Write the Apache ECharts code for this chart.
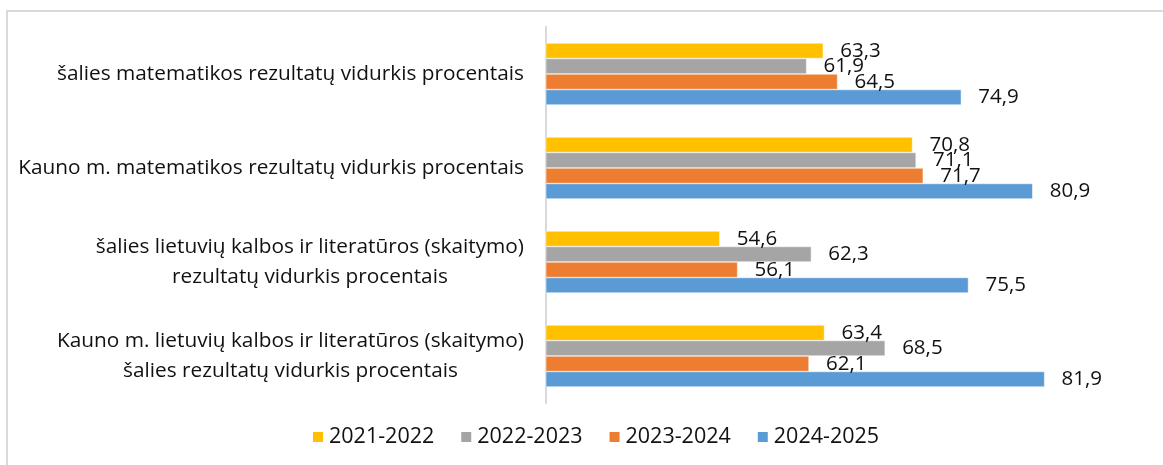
<!DOCTYPE html>
<html>
<head>
<meta charset="utf-8">
<script src="https://cdn.jsdelivr.net/npm/echarts@6/dist/echarts.min.js"></script>
<style>
  html, body { margin: 0; padding: 0; background: #fff; }
  #chart { width: 1163px; height: 465px; }
</style>
</head>
<body>
<div id="chart"></div>
<script>
// categories, top to bottom
const categories = [
  'šalies matematikos rezultatų vidurkis procentais',
  'Kauno m. matematikos rezultatų vidurkis procentais',
  'šalies lietuvių kalbos ir literatūros (skaitymo)\nrezultatų vidurkis procentais',
  'Kauno m. lietuvių kalbos ir literatūros (skaitymo)\nšalies rezultatų vidurkis procentais'
];

const years = ['2021-2022', '2022-2023', '2023-2024', '2024-2025'];

const v2021 = [63.3, 70.8, 54.6, 63.4];
const v2022 = [61.9, 71.1, 62.3, 68.5];
const v2023 = [64.5, 71.7, 56.1, 62.1];
const v2024 = [74.9, 80.9, 75.5, 81.9];

const COLORS = ['#FFC000', '#A5A5A5', '#ED7D31', '#5B9BD5'];
const FONT = '"Open Sans"';

const chart = echarts.init(document.getElementById('chart'));

function makeSeries(name, values, color) {
  return {
    name: name,
    type: 'bar',
    data: values,
    barWidth: 15.5,
    barGap: '0%',
    itemStyle: { color: color, borderColor: '#fff', borderWidth: 0.5 },
    label: {
      show: true,
      position: 'right',
      distance: 17,
      color: '#111',
      fontFamily: FONT,
      fontSize: 20.5,
      formatter: p => String(p.value).replace('.', ',')
    },
    animation: false
  };
}

chart.setOption({
  backgroundColor: '#fff',
  graphic: [{
    type: 'rect',
    shape: { x: 7, y: 11, width: 1180, height: 480 },
    style: { fill: 'none', stroke: '#d9d9d9', lineWidth: 2 },
    silent: true
  }],
  grid: { left: 546, right: 22, top: 27, bottom: 62, containLabel: false },
  legend: {
    data: years,
    left: 306,
    top: 421,
    itemWidth: 12,
    itemHeight: 12,
    itemGap: 25,
    icon: 'rect',
    textStyle: { color: '#111', fontFamily: FONT, fontSize: 21.5 }
  },
  xAxis: { type: 'value', min: 40, max: 90, show: false },
  yAxis: {
    type: 'category',
    data: categories,
    inverse: true,
    axisLine: { lineStyle: { color: '#d9d9d9', width: 2 } },
    axisTick: { length: 6, lineStyle: { color: '#d9d9d9', width: 2 } },
    axisLabel: {
      margin: 22,
      color: '#111',
      fontFamily: FONT,
      fontSize: 20.8,
      lineHeight: 30,
      formatter: v => v.split('\n').map(s => '{c|' + s + '}').join('\n'),
      rich: { c: { align: 'center', fontFamily: FONT, fontSize: 20.8, lineHeight: 30, color: '#111' } }
    }
  },
  series: [
    makeSeries(years[0], v2021, COLORS[0]),
    makeSeries(years[1], v2022, COLORS[1]),
    makeSeries(years[2], v2023, COLORS[2]),
    makeSeries(years[3], v2024, COLORS[3])
  ]
});
</script>
</body>
</html>
